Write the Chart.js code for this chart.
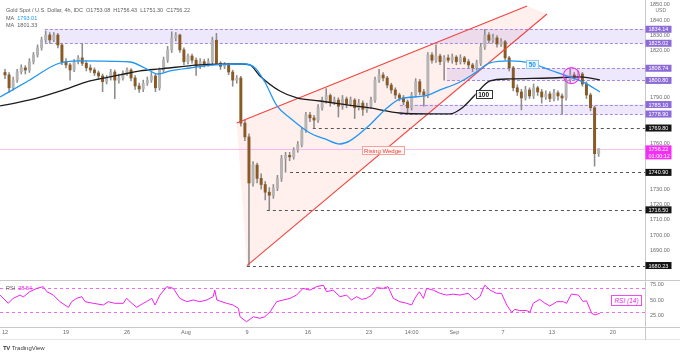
<!DOCTYPE html>
<html>
<head>
<meta charset="utf-8">
<title>Gold Spot / U.S. Dollar, 4h</title>
<script src="https://cdn.jsdelivr.net/npm/chart.js@4.4.1/dist/chart.umd.min.js"></script>
<style>
  html, body { margin: 0; padding: 0; background: #fff; }
  #wrap { position: relative; width: 680px; height: 354px; overflow: hidden; font-family: "Liberation Sans", Arial, sans-serif; color: #5d5d5d; }
  #priceBox { position: absolute; left: 0; top: 0; width: 680px; height: 280px; }
  #rsiBox { position: absolute; left: 0; top: 280px; width: 680px; height: 60px; }
  .txt { position: absolute; font-size: 5.5px; line-height: 7px; white-space: nowrap; }
  #rsiTag { position: absolute; left: 611px; top: 295px; width: 29px; height: 9px; border: 1px solid #ef4bef; color: #e91ee9;
            font-size: 6.5px; line-height: 9px; font-style: italic; text-align: center; background: #fff; }
  #logo { position: absolute; left: 3px; top: 345px; font-size: 6px; line-height: 7px; color: #3a3a3a; white-space: nowrap; }
  #logo b { font-weight: 900; letter-spacing: -0.5px; margin-right: 2px; }
</style>
</head>
<body>
<div id="wrap">
  <div id="priceBox"><canvas id="priceChart"></canvas></div>
  <div id="rsiBox"><canvas id="rsiChart"></canvas></div>
  <div class="txt" style="left:6px;top:6.5px">Gold Spot / U.S. Dollar, 4h, IDC&nbsp; O1753.08&nbsp; H1756.43&nbsp; L1751.30&nbsp; C1756.22</div>
  <div class="txt" style="left:6px;top:14.5px">MA&nbsp; <span style="color:#2196f3">1793.01</span></div>
  <div class="txt" style="left:6px;top:22px">MA&nbsp; 1801.33</div>
  <div class="txt" style="left:6px;top:284.5px">RSI&nbsp; <span style="color:#e91ee9">28.54</span></div>
  <div id="rsiTag">RSI (14)</div>
  <div id="logo"><b>TV</b>TradingView</div>
</div>
<script>
// 4h candles, x = bar index (0 = Mon 12 Jul), three bars per trading day
var opens = [1806,1804.4,1796,1801,1806.5,1809,1807.6,1813,1817.4,1822,
  1827.2,1830.4,1827.2,1830.4,1823.9,1813,1810.9,1807.6,1813,1815.5,
  1812,1809,1807.6,1805.7,1803.7,1800,1802.4,1806.3,1801,1802.4,
  1805.7,1807.6,1802.4,1797.2,1795.2,1799,1801,1803.7,1796,1807.6,
  1814,1820.7,1828.5,1830.4,1820.7,1813,1816.7,1814,1810,1813,
  1811.5,1813,1827,1812,1810,1811,1806.3,1801,1802.4,1773,
  1764,1734,1745.7,1737,1733,1728,1726,1730.7,1737,1750,
  1752,1751,1755.5,1759,1768.5,1778.3,1776.4,1775,1783,1788,
  1791,1786.8,1788,1784,1788.7,1785.5,1788,1783,1786,1782,
  1784,1788,1801,1804.4,1802.4,1797.8,1794.6,1791.3,1789.4,1786.8,
  1783,1791.3,1800,1793.3,1791.3,1817.4,1814,1816.7,1813,1815.5,
  1814,1816,1813,1815.5,1813,1810.9,1809,1812,1822.6,1830.4,
  1827,1828.5,1824.5,1826,1815.5,1809,1796,1793.3,1789.4,1794.6,
  1790.7,1796,1793.3,1790,1792,1789,1792.7,1790.7,1789.4,1801,
  1804.4,1803,1805,1798.5,1791.3,1783,1753.08];
var highs = [1808,1806,1803,1808,1811,1810.5,1815,1819,1824,1829,
  1833,1832,1832,1831.5,1825,1815,1812,1814.5,1817,1825,
  1813.5,1811,1809,1807,1805,1804,1808,1807.5,1805,1807,
  1809,1808.5,1804,1799,1801,1803,1806,1805,1809,1816,
  1823,1832.5,1832,1831,1822,1818,1818,1815.5,1815,1814.5,
  1815,1829,1831.5,1813,1812.5,1812,1807.5,1804,1803.5,1775,
  1766,1748,1747,1740,1735,1731,1733,1739,1752,1754,
  1754,1757,1761,1770,1780,1780,1778,1785,1790,1795.5,
  1792,1790,1789.5,1791,1790,1790,1789,1788.5,1787.5,1786,
  1790,1803,1808,1806,1803.5,1799,1796,1792.5,1791,1788,
  1793,1802,1801.5,1795,1819,1819,1824,1818,1817,1817.5,
  1818,1817,1817.5,1816.5,1814.5,1812,1814,1825,1834.1,1832,
  1831,1830,1828,1827,1816.5,1810,1798,1795,1797,1796,
  1798.5,1797,1795,1794,1793.5,1795,1794,1792,1803,1808.5,
  1806,1807,1806,1800,1792.5,1784,1756.43];
var lows = [1802,1793,1794.5,1799.5,1805,1805,1806,1811.5,1816,1820.5,
  1825.5,1825,1826,1822,1811,1809,1801,1806.5,1811.5,1810.5,
  1807,1806,1804,1801.5,1793.5,1798.5,1801,1789,1799,1801,
  1804,1800.5,1795,1793,1793.5,1797.5,1799.5,1793.5,1794.5,1806,
  1812.5,1819,1826.5,1819,1811,1811.5,1812,1804,1808.5,1809.5,
  1810,1811.5,1811,1808,1808.5,1804.5,1797,1799,1771,1761.5,
  1680.23,1732,1734,1730,1723,1716.5,1724,1729,1735,1741,
  1748.5,1749.5,1754,1757.5,1767,1774,1769.8,1773.5,1781.5,1786,
  1784,1785,1777,1782,1783,1784,1776,1781.5,1778,1780,
  1782.5,1786.5,1799.5,1800.5,1796,1792.5,1789,1787.5,1785,1779,
  1781.5,1790,1791.5,1784,1789.5,1812,1812.5,1811,1801,1812.5,
  1812,1811,1811.5,1811.5,1809,1806.5,1807.5,1810.5,1821,1825,
  1825.5,1822.5,1823,1814,1807,1794,1791,1781.6,1788,1789,
  1789,1791,1786,1788.5,1787,1787.5,1788,1779,1788,1799.5,
  1801.5,1801,1797,1789,1781,1745,1751.30];
var closes = [1804.4,1796,1801,1806.5,1809,1807.6,1813,1817.4,1822,1827.2,
  1830.4,1827.2,1830.4,1823.9,1813,1810.9,1807.6,1813,1815.5,1812,
  1809,1807.6,1805.7,1803.7,1800,1802.4,1806.3,1801,1802.4,1805.7,
  1807.6,1802.4,1797.2,1795.2,1799,1801,1803.7,1796,1807.6,1814,
  1820.7,1828.5,1830.4,1820.7,1813,1816.7,1814,1810,1813,1811.5,
  1813,1827,1812,1810,1811,1806.3,1801,1802.4,1773,1764,
  1734,1745.7,1737,1733,1728,1726,1730.7,1737,1750,1752,
  1751,1755.5,1759,1768.5,1778.3,1776.4,1775,1783,1788,1791,
  1786.8,1788,1784,1788.7,1785.5,1788,1783,1786,1782,1784,
  1788,1801,1804.4,1802.4,1797.8,1794.6,1791.3,1789.4,1786.8,1783,
  1791.3,1800,1793.3,1791.3,1817.4,1814,1816.7,1813,1815.5,1814,
  1816,1813,1815.5,1813,1810.9,1809,1812,1822.6,1830.4,1827,
  1828.5,1824.5,1826,1815.5,1809,1796,1793.3,1789.4,1794.6,1790.7,
  1796,1793.3,1790,1792,1789,1792.7,1790.7,1789.4,1801,1804.4,
  1803,1805,1798.5,1791.3,1783,1753.08,1756.22];

// moving averages
var ma50X = [-1.2,6.1,12.8,18.4,30.7,34.4,37.6,40.6,45.5,51.6,59.0,61.5,63.9,66.9,70.1,75.0,78.7,
  82.4,84.8,89.7,93.4,97.1,103.3,107.0,111.9,115.6,119.3,124.2,129.1,134.0,138.9,142.6,146.3];
var ma50 = [1790.0,1801.1,1811.5,1813.5,1812.8,1808.9,1805.0,1807.0,1808.9,1810.9,1811.5,1808.9,1799.8,
  1784.2,1776.4,1766.6,1762.7,1759.4,1761.4,1771.8,1781.6,1788.7,1790.7,1794.6,1799.8,1805.7,1812.2,
  1813.5,1812.2,1807.6,1803.1,1799.2,1793.3];
var ma100X = [-1.2,6.1,13.5,20.9,28.3,33.2,38.1,47.9,57.8,60.2,62.7,67.6,71.8,77.5,82.4,89.7,97.1,
  104.0,109.4,112.4,115.6,119.3,124.2,134.0,141.4,146.3];
var ma100 = [1784.2,1788.1,1793.9,1800.5,1804.4,1807.0,1808.3,1810.9,1811.5,1810.9,1803.7,1793.9,1789.4,
  1787.4,1785.5,1782.9,1779.6,1779.0,1779.0,1782.9,1791.3,1800.5,1801.8,1802.4,1803.1,1801.1];

// RSI (14)
var rsiX = [-1.2,0.8,2.0,3.7,4.5,6.1,7.8,9.4,10.3,11.9,13.5,15.6,16.4,17.6,18.9,19.7,21.7,24.2,25.4,27.0,
  29.1,29.9,31.2,32.4,34.0,34.8,36.1,36.9,38.1,39.8,41.4,43.0,44.7,46.3,47.9,49.6,51.2,51.6,52.1,54.5,
  56.1,57.4,57.8,59.4,61.1,62.7,63.9,65.2,66.8,68.4,70.1,71.7,73.3,75.0,76.6,78.3,79.1,80.7,82.4,
  84.0,85.2,86.5,87.7,88.9,90.2,91.4,93.0,94.2,95.5,97.1,98.8,100.0,100.8,101.9,102.9,103.7,105.3,
  107.0,108.6,110.2,111.9,113.9,115.6,116.8,118.0,119.3,120.9,122.1,123.4,124.6,125.4,126.6,128.3,
  129.1,129.9,131.5,132.8,134.0,135.7,137.3,138.1,139.3,141.0,142.2,143.0,144.3,145.1,146.3];
var rsiValues = [58,44.7,52.7,58,55,63.4,68.8,71.5,63.4,58,47.3,38.2,47.3,52.7,55.4,47.3,44.7,42,47.3,44.7,
  44.7,52.7,44.7,38.2,44.7,47.3,52.7,42,58,71.5,68.8,52.7,47.3,50,47.3,50,55.4,66,50,44.7,
  42,36.6,23,15,23,20.6,23,31,47.3,50,52.7,58,68.8,66,71.5,74,63.4,66,55.4,
  58,50,55.4,51,52.7,58,70,68.8,71.5,52.7,47.3,44.7,42,52.7,63.4,52.7,68.8,66,
  60.8,58,59.5,58,60.8,50,55.4,74,66,60.8,60.8,42,30.2,35,33,33,
  30.2,44.7,51,44.7,40.4,47.3,47.3,44.7,59.5,58,47.3,48.9,28.5,26,28.5];

var priceTicks = [1690, 1700, 1710, 1720, 1730, 1760, 1790, 1820, 1830, 1840, 1850];
var rsiTicks = [25, 50, 75];
var xTickValues = [0, 15, 30, 44.5, 59.5, 74.5, 89.5, 100, 110.5, 122.5, 134.5, 149.5];
var xTickLabels = ['12', '19', '26', 'Aug', '9', '16', '23', '14:00', 'Sep', '7', '13', '20'];

// drawn levels
var zoneLows = [1825.02, 1800.80, 1778.90];
var zoneHighs = [1834.14, 1808.74, 1785.10];
var zoneStarts = [9.8, 108.7, 97.1];
var levelValues = [1769.80, 1740.90, 1716.50, 1680.23];
var levelStarts = [75.7, 70.1, 64.4, 59.5];
var wedgeUpper = [[57.0, 1773.1], [128.4, 1849.3]];
var wedgeLower = [[59.5, 1680.2], [133.3, 1844.1]];
var crossAt = [139.3, 1804.0];
var lastPrice = 1756.22;
var rsiBands = [70, 30];

var xMin = -1.23, xMax = 157.4;
var FONT = '"Liberation Sans", Arial, sans-serif';
Chart.defaults.font.family = FONT;

var idx = closes.map(function(c, i) { return i; });
var upCol = '#b4b4b4', downCol = '#8a5a26';

function px(chart, v) { return chart.scales.x.getPixelForValue(v); }
function py(chart, v) { return chart.scales.y.getPixelForValue(v); }
function hline(ctx, x0, x1, y) {
  ctx.beginPath(); ctx.moveTo(x0, y); ctx.lineTo(x1, y); ctx.stroke();
}
// keep the plot area flush with the canvas edges
function noPad(s) { s.paddingTop = 0; s.paddingBottom = 0; s.paddingLeft = 0; s.paddingRight = 0; }
function boxLabel(ctx, cx, cy, text, fg, border, bg, font) {
  ctx.font = font;
  var w = ctx.measureText(text).width + 5, h = 8;
  ctx.fillStyle = bg;
  ctx.fillRect(cx - w / 2, cy - h / 2, w, h);
  ctx.strokeStyle = border; ctx.lineWidth = 1;
  ctx.strokeRect(Math.round(cx - w / 2) + 0.5, Math.round(cy - h / 2) + 0.5, Math.round(w), h);
  ctx.fillStyle = fg; ctx.textAlign = 'center'; ctx.textBaseline = 'middle';
  ctx.fillText(text, cx, cy + 0.5);
}
function axisTag(ctx, x, y, h, bg, lines) {
  ctx.fillStyle = bg;
  ctx.fillRect(x, y - 3.5, 26, h);
  ctx.fillStyle = '#fff';
  ctx.font = '5.5px ' + FONT;
  ctx.textAlign = 'left'; ctx.textBaseline = 'middle';
  lines.forEach(function(t, k) { ctx.fillText(t, x + 3, y + 0.5 + k * 7); });
}

var priceOverlay = {
  id: 'priceOverlay',
  beforeDatasetsDraw: function(chart) {
    var ctx = chart.ctx, a = chart.chartArea;
    ctx.save();
    ctx.beginPath();
    ctx.rect(a.left, a.top, a.right - a.left, a.bottom - a.top);
    ctx.clip();

    // wedge shading
    var shape = [wedgeUpper[0], wedgeUpper[1], wedgeLower[1], wedgeLower[0]];
    ctx.fillStyle = 'rgba(255, 160, 150, 0.17)';
    ctx.beginPath();
    shape.forEach(function(p, k) {
      if (k === 0) ctx.moveTo(px(chart, p[0]), py(chart, p[1]));
      else ctx.lineTo(px(chart, p[0]), py(chart, p[1]));
    });
    ctx.closePath();
    ctx.fill();

    // zones
    ctx.lineWidth = 1;
    ctx.setLineDash([3, 2]);
    for (var k = 0; k < zoneLows.length; k++) {
      var x0 = px(chart, zoneStarts[k]);
      var yt = py(chart, zoneHighs[k]), yb = py(chart, zoneLows[k]);
      ctx.fillStyle = 'rgba(150, 120, 230, 0.17)';
      ctx.fillRect(x0, yt, a.right - x0, yb - yt);
      ctx.strokeStyle = '#a48ae4';
      hline(ctx, x0, a.right, Math.round(yt) + 0.5);
      hline(ctx, x0, a.right, Math.round(yb) + 0.5);
    }

    // dashed levels
    ctx.setLineDash([3, 3]);
    ctx.strokeStyle = '#555';
    for (var j = 0; j < levelValues.length; j++) {
      hline(ctx, px(chart, levelStarts[j]), a.right, Math.round(py(chart, levelValues[j])) + 0.5);
    }

    // last price line
    ctx.setLineDash([]);
    ctx.strokeStyle = 'rgba(235, 120, 235, 0.45)';
    hline(ctx, a.left, a.right, Math.round(py(chart, lastPrice)) + 0.5);
    ctx.restore();
  },
  afterDatasetsDraw: function(chart) {
    var ctx = chart.ctx;
    ctx.save();
    // crossover circle
    ctx.beginPath();
    ctx.arc(px(chart, crossAt[0]), py(chart, crossAt[1]), 8, 0, Math.PI * 2);
    ctx.fillStyle = 'rgba(255, 60, 255, 0.12)';
    ctx.fill();
    ctx.strokeStyle = '#e838e8'; ctx.lineWidth = 1.2;
    ctx.stroke();

    boxLabel(ctx, px(chart, 129.7), py(chart, 1811.2), '50', '#2196f3', '#8fcbf5', '#eef7fe', 'bold 6.5px ' + FONT);
    boxLabel(ctx, px(chart, 117.7), py(chart, 1791.7), '100', '#111', '#333', '#fff', 'bold 6.5px ' + FONT);
    boxLabel(ctx, px(chart, 92.9), py(chart, 1755.2), 'Rising Wedge', '#f0413a', '#f5a09a', '#fff5f4', '6px ' + FONT);
    ctx.restore();
  },
  afterDraw: function(chart) {
    var ctx = chart.ctx, a = chart.chartArea;
    var x = a.right + 0.5;
    ctx.save();
    ctx.fillStyle = '#777';
    ctx.font = '5px ' + FONT;
    ctx.textAlign = 'left'; ctx.textBaseline = 'middle';
    ctx.fillText('USD', x + 10, 10.5);
    for (var k = 0; k < zoneLows.length; k++) {
      axisTag(ctx, x, py(chart, zoneHighs[k]), 7, '#8c6bd8', [zoneHighs[k].toFixed(2)]);
      axisTag(ctx, x, py(chart, zoneLows[k]), 7, '#8c6bd8', [zoneLows[k].toFixed(2)]);
    }
    levelValues.forEach(function(v) { axisTag(ctx, x, py(chart, v), 7, '#141414', [v.toFixed(2)]); });
    axisTag(ctx, x, py(chart, lastPrice), 14, '#f42ff4', [lastPrice.toFixed(2), '01:00:12']);
    ctx.restore();
  }
};

new Chart(document.getElementById('priceChart'), {
  type: 'bar',
  data: {
    datasets: [
      {
        label: 'wicks',
        data: idx.map(function(i) { return { x: i, y: [lows[i], highs[i]] }; }),
        backgroundColor: '#8c8c8c',
        barThickness: 0.9,
        grouped: false,
        order: 6
      },
      {
        label: 'bodies',
        data: idx.map(function(i) { return { x: i, y: [opens[i], closes[i]] }; }),
        backgroundColor: idx.map(function(i) { return closes[i] >= opens[i] ? upCol : downCol; }),
        barThickness: 2.3,
        minBarLength: 1,
        grouped: false,
        order: 5
      },
      {
        type: 'line', label: 'wedge top',
        data: wedgeUpper.map(function(p) { return { x: p[0], y: p[1] }; }),
        borderColor: '#f2453d', borderWidth: 1.1, pointRadius: 0, order: 3
      },
      {
        type: 'line', label: 'wedge bottom',
        data: wedgeLower.map(function(p) { return { x: p[0], y: p[1] }; }),
        borderColor: '#f2453d', borderWidth: 1.1, pointRadius: 0, order: 3
      },
      {
        type: 'line', label: 'MA 100',
        data: ma100X.map(function(x, k) { return { x: x, y: ma100[k] }; }),
        borderColor: '#1c1c1c', borderWidth: 1.3, pointRadius: 0, cubicInterpolationMode: 'monotone', order: 2
      },
      {
        type: 'line', label: 'MA 50',
        data: ma50X.map(function(x, k) { return { x: x, y: ma50[k] }; }),
        borderColor: '#2196f3', borderWidth: 1.3, pointRadius: 0, cubicInterpolationMode: 'monotone', order: 1
      }
    ]
  },
  options: {
    animation: false,
    responsive: true,
    maintainAspectRatio: false,
    devicePixelRatio: 1,
    layout: { padding: 0, autoPadding: false },
    plugins: { legend: { display: false }, tooltip: { enabled: false } },
    scales: {
      x: { type: 'linear', min: xMin, max: xMax, offset: false, display: false },
      y: {
        position: 'right',
        min: 1670.8,
        max: 1853.2,
        grid: { display: false, drawTicks: false },
        border: { display: true, color: '#c9c9c9' },
        ticks: {
          padding: 5,
          color: '#6b6b6b',
          font: { size: 5.5 },
          callback: function(v) { return v.toFixed(2); }
        },
        afterBuildTicks: function(s) { s.ticks = priceTicks.map(function(v) { return { value: v }; }); },
        afterFit: function(s) { s.width = 35; noPad(s); }
      }
    }
  },
  plugins: [priceOverlay]
});

var rsiOverlay = {
  id: 'rsiOverlay',
  beforeDatasetsDraw: function(chart) {
    var ctx = chart.ctx, a = chart.chartArea;
    ctx.save();
    ctx.strokeStyle = '#f06df0';
    ctx.lineWidth = 1;
    ctx.setLineDash([3, 3]);
    rsiBands.forEach(function(v) { hline(ctx, a.left, a.right, Math.round(py(chart, v)) + 0.5); });
    ctx.restore();
  },
  afterDraw: function(chart) {
    var ctx = chart.ctx, a = chart.chartArea;
    ctx.save();
    ctx.strokeStyle = '#c9c9c9';
    ctx.lineWidth = 1;
    hline(ctx, 0, chart.width, 0.5);
    hline(ctx, 0, chart.width, Math.round(a.bottom) + 0.5);
    ctx.strokeStyle = '#e6e6e6';
    hline(ctx, 0, chart.width, chart.height - 0.5);
    ctx.strokeStyle = '#c9c9c9';
    ctx.beginPath();
    ctx.moveTo(a.right + 0.5, a.bottom); ctx.lineTo(a.right + 0.5, chart.height);
    ctx.stroke();
    ctx.restore();
  }
};

new Chart(document.getElementById('rsiChart'), {
  type: 'line',
  data: {
    datasets: [{
      label: 'RSI (14)',
      data: rsiX.map(function(x, k) { return { x: x, y: rsiValues[k] }; }),
      borderColor: '#ee22ee',
      borderWidth: 1,
      pointRadius: 0,
      tension: 0
    }]
  },
  options: {
    animation: false,
    responsive: true,
    maintainAspectRatio: false,
    devicePixelRatio: 1,
    layout: { padding: 0, autoPadding: false },
    plugins: { legend: { display: false }, tooltip: { enabled: false } },
    scales: {
      x: {
        type: 'linear', min: xMin, max: xMax, offset: false,
        grid: { display: false, drawTicks: false },
        border: { display: false },
        ticks: {
          padding: 3,
          autoSkip: false,
          maxRotation: 0,
          color: '#6b6b6b',
          font: { size: 5.5 },
          callback: function(v, i) { return xTickLabels[i]; }
        },
        afterBuildTicks: function(s) { s.ticks = xTickValues.map(function(v) { return { value: v }; }); },
        afterFit: function(s) { s.height = 13.5; noPad(s); }
      },
      y: {
        position: 'right',
        min: 7.3,
        max: 82.3,
        grid: { display: false, drawTicks: false },
        border: { display: true, color: '#c9c9c9' },
        ticks: {
          padding: 5,
          color: '#6b6b6b',
          font: { size: 5.5 },
          callback: function(v) { return v.toFixed(2); }
        },
        afterBuildTicks: function(s) { s.ticks = rsiTicks.map(function(v) { return { value: v }; }); },
        afterFit: function(s) { s.width = 35; noPad(s); }
      }
    }
  },
  plugins: [rsiOverlay]
});
</script>
</body>
</html>
